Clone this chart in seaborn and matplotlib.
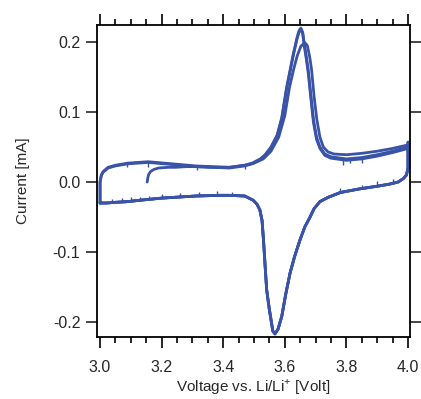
import matplotlib
matplotlib.use("Agg")
import matplotlib.pyplot as plt
import numpy as np
import pandas as pd
import seaborn as sns
from matplotlib.ticker import MultipleLocator


# first cycle, anodic scan starting from open circuit (~3.15 V)
v_up_first = [3.153, 3.155, 3.158, 3.164, 3.175, 3.19, 3.22, 3.245, 3.28, 3.31, 3.36, 3.42,
              3.47, 3.50, 3.53, 3.555, 3.58, 3.60, 3.615, 3.628, 3.64, 3.652, 3.665, 3.673,
              3.681, 3.687, 3.695, 3.704, 3.714, 3.725, 3.74, 3.76, 3.80, 3.85, 3.90, 3.95, 4.0]
i_up_first = [0.000, 0.006, 0.011, 0.015, 0.018, 0.020, 0.021, 0.021, 0.022, 0.022, 0.021, 0.021,
              0.024, 0.027, 0.033, 0.044, 0.064, 0.095, 0.135, 0.160, 0.180, 0.194, 0.199, 0.195,
              0.178, 0.160, 0.122, 0.089, 0.064, 0.050, 0.043, 0.040, 0.039, 0.041, 0.044, 0.048, 0.053]

# later cycles, anodic scan 3.0 -> 4.0 V
v_up = [3.0, 3.0, 3.004, 3.01, 3.026, 3.05, 3.09, 3.156, 3.234, 3.31, 3.42, 3.47,
        3.494, 3.52, 3.536, 3.555, 3.575, 3.59, 3.606, 3.618, 3.628, 3.64, 3.646, 3.652,
        3.658, 3.663, 3.670, 3.676, 3.685, 3.693, 3.703, 3.714, 3.73, 3.75, 3.80, 3.85,
        3.90, 3.95, 4.0, 4.0]
i_up_a = [-0.030, 0.000, 0.010, 0.015, 0.021, 0.024, 0.027, 0.029, 0.026, 0.023, 0.021, 0.024,
          0.027, 0.033, 0.039, 0.050, 0.067, 0.092, 0.136, 0.162, 0.184, 0.207, 0.216, 0.220,
          0.214, 0.198, 0.178, 0.160, 0.122, 0.089, 0.064, 0.050, 0.040, 0.036, 0.033, 0.035,
          0.039, 0.044, 0.050, 0.057]
i_up_b = [-0.030, 0.000, 0.009, 0.014, 0.020, 0.023, 0.026, 0.028, 0.025, 0.022, 0.020, 0.023,
          0.026, 0.032, 0.038, 0.049, 0.066, 0.090, 0.133, 0.160, 0.182, 0.205, 0.214, 0.218,
          0.212, 0.195, 0.175, 0.156, 0.118, 0.085, 0.061, 0.048, 0.038, 0.034, 0.031, 0.033,
          0.037, 0.042, 0.048, 0.050]

# cathodic scan 4.0 -> 3.0 V
v_down = [4.0, 4.0, 3.995, 3.985, 3.968, 3.94, 3.90, 3.84, 3.78, 3.74, 3.714, 3.695,
          3.682, 3.665, 3.649, 3.632, 3.617, 3.603, 3.59, 3.578, 3.568, 3.561, 3.557, 3.549,
          3.541, 3.536, 3.531, 3.526, 3.519, 3.51, 3.497, 3.47, 3.42, 3.39, 3.31, 3.2,
          3.13, 3.09, 3.05, 3.02, 3.0]
i_down = [0.050, 0.020, 0.010, 0.005, 0.000, -0.003, -0.006, -0.010, -0.015, -0.022, -0.028, -0.038,
          -0.050, -0.064, -0.083, -0.106, -0.130, -0.160, -0.192, -0.210, -0.217, -0.213, -0.202, -0.180,
          -0.154, -0.120, -0.085, -0.055, -0.040, -0.032, -0.026, -0.020, -0.019, -0.019, -0.020, -0.023,
          -0.026, -0.028, -0.029, -0.030, -0.030]

# noise spikes on the anodic (down) and cathodic (up) baselines
spike_up_v = [3.088, 3.156, 3.315, 3.47, 3.79, 3.81, 3.85]
spike_up_top = [0.027, 0.029, 0.023, 0.024, 0.032, 0.033, 0.035]
spike_up_bottom = [0.021, 0.022, 0.017, 0.019, 0.024, 0.027, 0.027]
spike_dn_v = [3.04, 3.07, 3.10, 3.13, 3.16, 3.20, 3.26, 3.32, 3.38, 3.43, 3.78, 3.85, 3.90, 3.95]
spike_dn_top = [-0.024, -0.023, -0.022, -0.021, -0.020, -0.017, -0.016, -0.014, -0.013, -0.014,
                -0.008, -0.004, 0.001, 0.004]
spike_dn_bottom = [-0.029, -0.028, -0.027, -0.025, -0.024, -0.022, -0.020, -0.019, -0.018, -0.019,
                   -0.014, -0.010, -0.005, -0.002]

line_color = "#3853a8"


def draw(data):
    fig = plt.figure(figsize=(4.21, 3.99), dpi=100)
    ax = fig.add_axes([0.2304, 0.1554, 0.7435, 0.7819])

    sns.lineplot(data=data, x="voltage", y="current", units="cycle", estimator=None,
                 sort=False, color=line_color, linewidth=2.0, ax=ax)

    ax.vlines(spike_up_v, spike_up_bottom, spike_up_top, color=line_color, linewidth=1.0)
    ax.vlines(spike_dn_v, spike_dn_bottom, spike_dn_top, color=line_color, linewidth=1.0)

    ax.set_xlim(2.990, 4.0065)
    ax.set_ylim(-0.2214, 0.2243)

    ax.xaxis.set_major_locator(MultipleLocator(0.2))
    ax.xaxis.set_minor_locator(MultipleLocator(0.05))
    ax.yaxis.set_major_locator(MultipleLocator(0.1))
    ax.set_xticks([3.0, 3.2, 3.4, 3.6, 3.8, 4.0])
    ax.set_xticklabels(["3.0", "3.2", "3.4", "3.6", "3.8", "4.0"])
    ax.set_yticks([-0.2, -0.1, 0.0, 0.1, 0.2])
    ax.set_yticklabels(["-0.2", "-0.1", "0.0", "0.1", "0.2"])

    ax.tick_params(axis="x", which="both", direction="out", top=True, bottom=True,
                   labeltop=False, width=1.2, color="black")
    ax.tick_params(axis="x", which="major", length=8, pad=8.5, labelsize=11.5)
    ax.tick_params(axis="x", which="minor", length=4)
    ax.tick_params(axis="y", which="major", direction="out", left=True, right=True,
                   labelright=False, length=8, width=1.2, pad=4, labelsize=11.5)

    for side in ["left", "right", "top", "bottom"]:
        ax.spines[side].set_visible(True)
        ax.spines[side].set_linewidth(1.3)
        ax.spines[side].set_color("black")

    ax.set_xlabel("Voltage vs. Li/Li$^{+}$ [Volt]", fontsize=11, labelpad=2)
    ax.set_ylabel("Current [mA]", fontsize=11, labelpad=16)

    fig.savefig("out.png", dpi=100)


def main():
    cycles = [
        (1, v_up_first + v_down, i_up_first + i_down),
        (2, v_up + v_down, i_up_a + i_down),
        (3, v_up + v_down, i_up_b + i_down),
    ]
    frames = []
    for cycle, v, i in cycles:
        frames.append(pd.DataFrame({"voltage": v, "current": i, "cycle": cycle}))
    data = pd.concat(frames, ignore_index=True)

    sns.set_style("ticks")
    plt.rcParams["font.family"] = ["Liberation Sans", "DejaVu Sans"]
    plt.rcParams["mathtext.fontset"] = "custom"
    plt.rcParams["mathtext.rm"] = "Liberation Sans"
    draw(data)


if __name__ == "__main__":
    main()
